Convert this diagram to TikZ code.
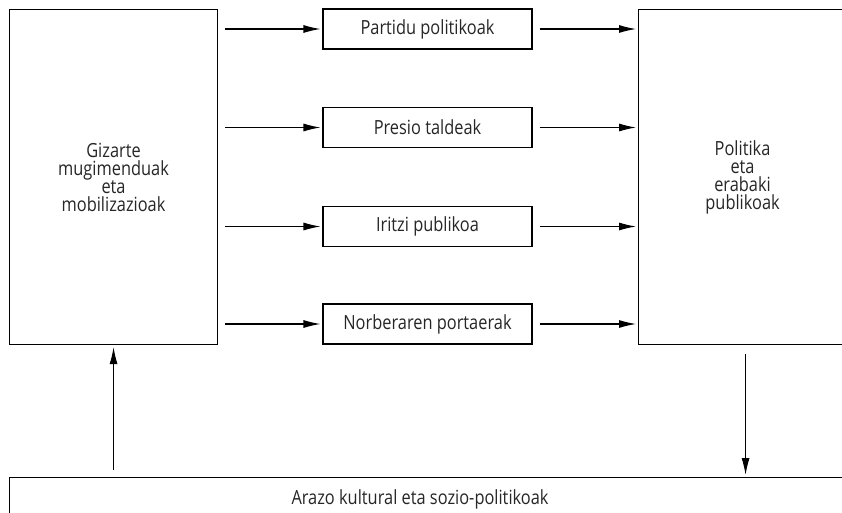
\documentclass[tikz,border=0pt]{standalone}
\usepackage{fontspec}
\setmainfont{Open Sans}[FakeStretch=0.84]
\usetikzlibrary{arrows.meta}
\tikzset{
  box/.style={draw, line width=1.1pt, inner sep=0pt, text=black!85},
  midbox/.style={box, minimum width=209pt, minimum height=40pt},
  arr/.style={-{Latex[length=17pt,width=8pt]}, line width=1.1pt, shorten >=2pt},
  lbl/.style={align=center, font=\fontsize{19.5pt}{18pt}\selectfont, text=black!85}
}
\begin{document}
\begin{tikzpicture}[x=1pt,y=-1pt]
\useasboundingbox (0,0) rectangle (842,513);
\clip (0,0) rectangle (842,513);
% large boxes
\node[box, anchor=north west, minimum width=208pt, minimum height=335pt] (L) at (9,9) {};
\node[lbl] (Lt) at (L.center) {Gizarte\\mugimenduak\\eta\\mobilizazioak};
\node[box, anchor=north west, minimum width=208pt, minimum height=335pt] (R) at (638,9) {};
\node[lbl] (Rt) at (R.center) {Politika\\eta\\erabaki\\publikoak};
\node[box, anchor=north west, minimum width=860pt, minimum height=60pt] (B) at (9,477) {};
\node[lbl] (Bt) at (420,499) {Arazo kultural eta sozio-politikoak};
% middle boxes
\node[midbox, lbl] (m1) at (427.5,29) {Partidu politikoak};
\node[midbox, lbl] (m2) at (427.5,127.5) {Presio taldeak};
\node[midbox, lbl] (m3) at (427.5,226.5) {Iritzi publikoa};
\node[midbox, lbl] (m4) at (427.5,324) {Norberaren portaerak};
% horizontal arrows
\foreach \m in {m1,m2,m3,m4}{
  \draw[arr] ([xshift=7pt] \m.west -| L.east) -- (\m.west);
  \draw[arr] ([xshift=7pt] \m.east) -- (\m.east -| R.west);
}
% vertical arrows
\draw[arr] ([yshift=7pt] L.south |- B.north) -- (L.south);
\draw[arr] ([xshift=3pt,yshift=-9pt] R.south) -- ([xshift=3pt] R.south |- B.north);
\end{tikzpicture}
\end{document}
